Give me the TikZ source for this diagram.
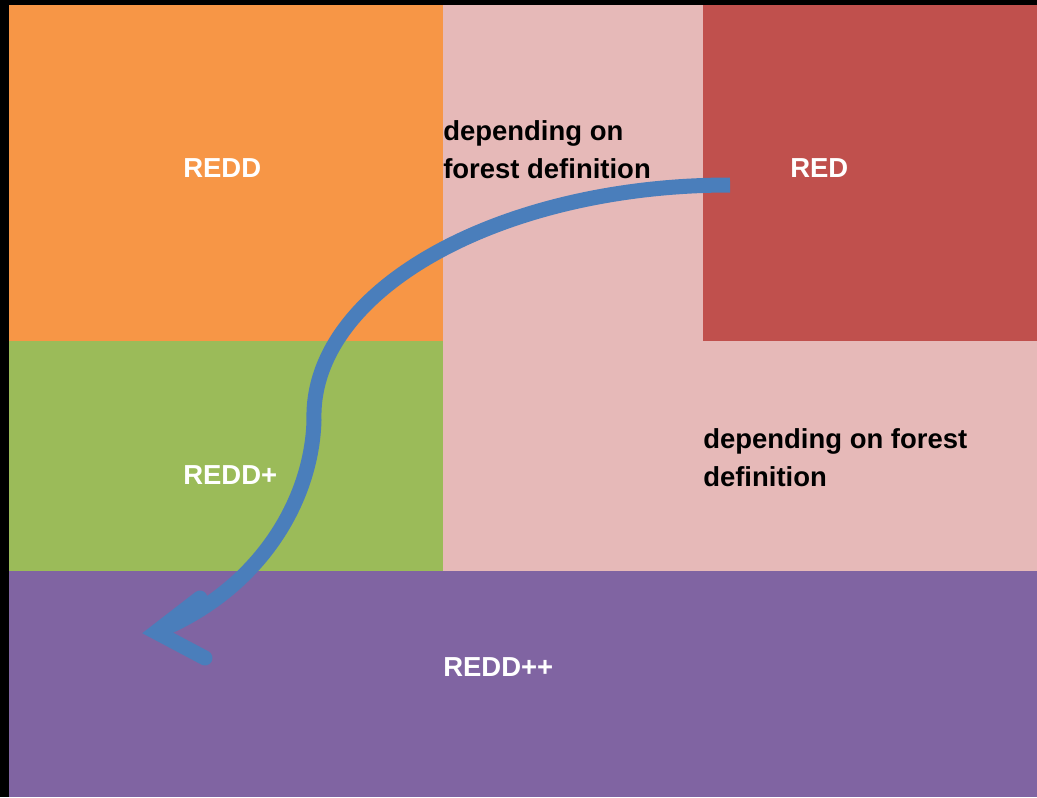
\documentclass[tikz,border=0pt]{standalone}
\usepackage{fontspec}
\setmainfont{Liberation Sans}
\usetikzlibrary{positioning}
\definecolor{reddorange}{HTML}{F79646}
\definecolor{reddgreen}{HTML}{9BBB59}
\definecolor{redred}{HTML}{C0504D}
\definecolor{reddpurple}{HTML}{8064A2}
\definecolor{forestpink}{HTML}{E6B9B8}
\definecolor{arrowblue}{HTML}{4A7EBB}
\tikzset{
  lbl/.style={font=\fontsize{20.6}{28.5}\selectfont\bfseries, inner sep=0pt, text=white, anchor=base west},
  note/.style={lbl, text=black, align=left, anchor=north west},
  bigarrow/.style={arrowblue, line width=11.25pt}
}
\begin{document}
\begin{tikzpicture}[x=0.75pt, y=-0.75pt]
\useasboundingbox (0,0) rectangle (1037,797);
\fill[black] (0,0) rectangle (1037,797);
% Blocks
\foreach \c/\p/\q in {forestpink/{443,5}/{1037,571}, reddorange/{9,5}/{443,341},
    redred/{703,5}/{1037,341}, reddgreen/{9,341}/{443,571}, reddpurple/{9,571}/{1037,797}} {
  \fill[\c] (\p) rectangle (\q);
}
% Labels
\node[lbl] (redd) at (183,177) {REDD};
\node[lbl] (red) at (790,177) {RED};
\node[lbl] (reddplus) at (183,484) {REDD+};
\node[lbl] (reddpp) at (443,676) {REDD++};
\node[note] (defupper) at (443,120) {depending on\\forest definition};
\node[note] (deflower) at (703,428) {depending on forest\\definition};
% Arrow
\coordinate (start) at (730,185);
\coordinate (bend) at (314,420);
\coordinate (tip) at (156,632);
\coordinate (barbup) at (200,598);
\coordinate (barbdown) at (205,658);
\draw[bigarrow, line cap=butt] (start) .. controls (500,185) and (310,290) .. (bend)
  .. controls (312,500) and (260,590) .. (tip);
\draw[bigarrow, line cap=round, line join=miter] (barbup) -- (tip) -- (barbdown);
\end{tikzpicture}
\end{document}
